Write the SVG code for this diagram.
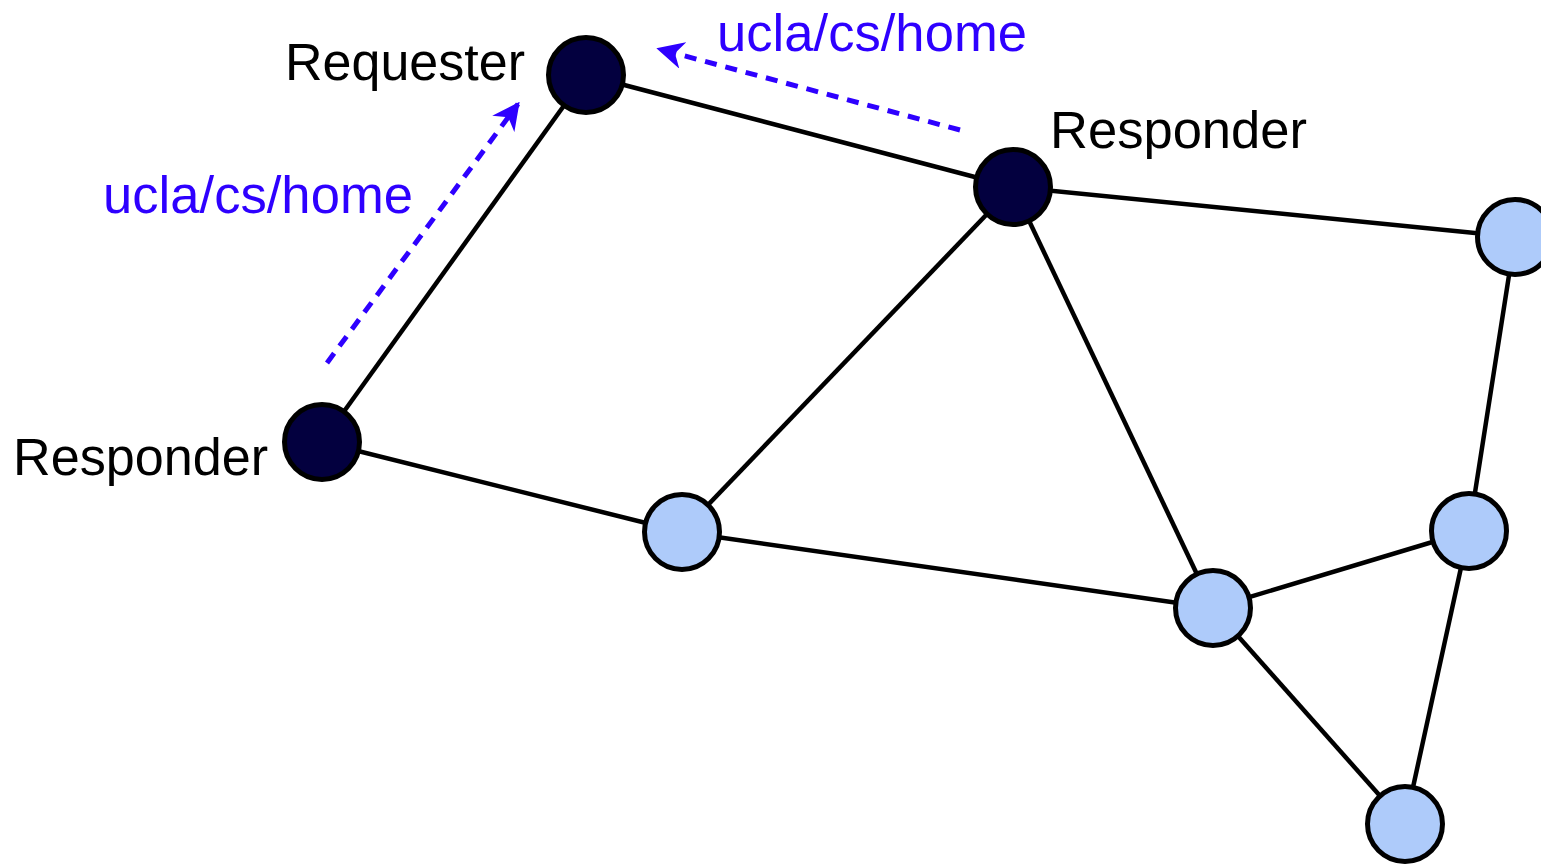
<svg xmlns="http://www.w3.org/2000/svg" width="1541" height="867" viewBox="0 0 1541 867">
  <style>
    .edge { stroke: #000; stroke-width: 4.5; fill: none; }
    .flow { stroke: #2e00ff; stroke-width: 5; stroke-dasharray: 12 9; fill: none; }
    .dark { fill: #03003f; stroke: #000; stroke-width: 5; }
    .light { fill: #aecbfa; stroke: #000; stroke-width: 5; }
    .label { font-family: "Liberation Sans", Arial, sans-serif; font-size: 51px; fill: #000; }
    .name { font-family: "Liberation Sans", Arial, sans-serif; font-size: 51px; fill: #2e00ff; }
  </style>
  <defs>
    <marker id="head" viewBox="0 0 10 10" refX="9" refY="5" markerWidth="5.5" markerHeight="5.5" markerUnits="strokeWidth" orient="auto">
      <path d="M0,0 L10,5 L0,10 L3,5 Z" fill="#2e00ff"/>
    </marker>
  </defs>
  <rect width="1541" height="867" fill="#fff"/>

  <g id="connectors">
    <line class="edge" x1="586" y1="75" x2="322" y2="442"/>
    <line class="edge" x1="586" y1="75" x2="1013" y2="187"/>
    <line class="edge" x1="1013" y1="187" x2="1515" y2="237"/>
    <line class="edge" x1="1013" y1="187" x2="682" y2="532"/>
    <line class="edge" x1="1013" y1="187" x2="1213" y2="608"/>
    <line class="edge" x1="322" y1="442" x2="682" y2="532"/>
    <line class="edge" x1="682" y1="532" x2="1213" y2="608"/>
    <line class="edge" x1="1213" y1="608" x2="1469" y2="531"/>
    <line class="edge" x1="1213" y1="608" x2="1405" y2="824"/>
    <line class="edge" x1="1469" y1="531" x2="1515" y2="237"/>
    <line class="edge" x1="1469" y1="531" x2="1405" y2="824"/>
  </g>

  <g id="requests">
    <line class="flow" x1="960" y1="130" x2="659" y2="49" marker-end="url(#head)"/>
    <line class="flow" x1="327" y1="363" x2="518" y2="104" marker-end="url(#head)"/>
    <text class="name" x="717" y="51" textLength="310" lengthAdjust="spacingAndGlyphs">ucla/cs/home</text>
    <text class="name" x="103" y="213" textLength="310" lengthAdjust="spacingAndGlyphs">ucla/cs/home</text>
  </g>

  <g id="requester">
    <circle class="dark" cx="586" cy="75" r="37.5"/>
    <text class="label" x="285" y="80" textLength="240" lengthAdjust="spacingAndGlyphs">Requester</text>
  </g>
  <g id="responder-top">
    <circle class="dark" cx="1013" cy="187" r="37.5"/>
    <text class="label" x="1050" y="148" textLength="257" lengthAdjust="spacingAndGlyphs">Responder</text>
  </g>
  <g id="responder-left">
    <circle class="dark" cx="322" cy="442" r="37.5"/>
    <text class="label" x="13" y="475" textLength="255" lengthAdjust="spacingAndGlyphs">Responder</text>
  </g>
  <g id="node-right">
    <circle class="light" cx="1515" cy="237" r="37.5"/>
  </g>
  <g id="node-middle">
    <circle class="light" cx="682" cy="532" r="37.5"/>
  </g>
  <g id="node-center">
    <circle class="light" cx="1213" cy="608" r="37.5"/>
  </g>
  <g id="node-east">
    <circle class="light" cx="1469" cy="531" r="37.5"/>
  </g>
  <g id="node-bottom">
    <circle class="light" cx="1405" cy="824" r="37.5"/>
  </g>
</svg>
